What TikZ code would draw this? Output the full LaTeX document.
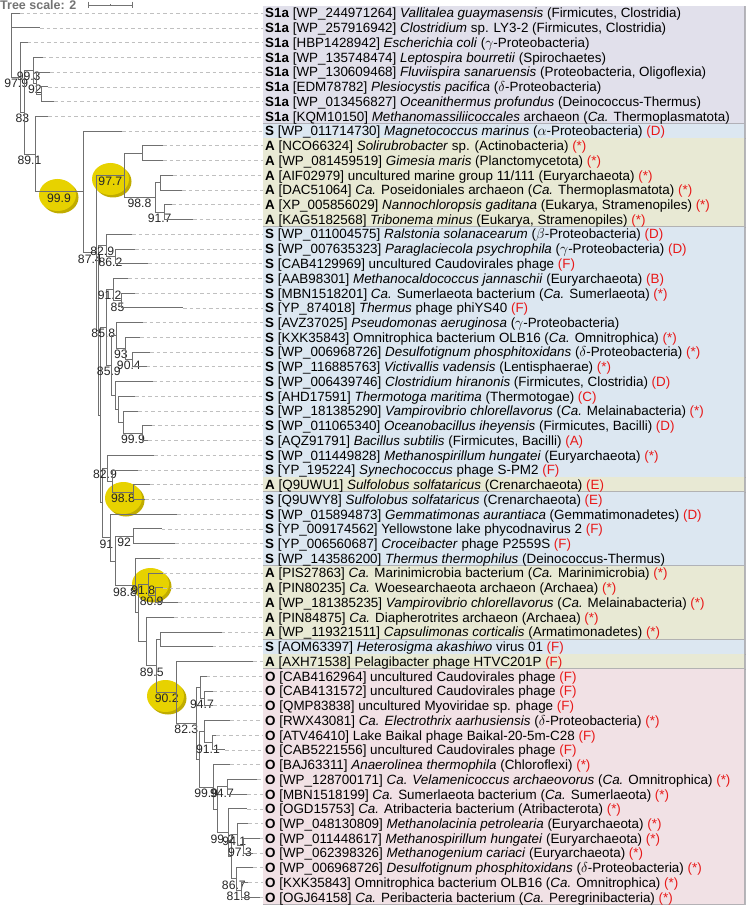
\documentclass[tikz,border=0pt]{standalone}
\usepackage{fontspec}
\setmainfont{Liberation Sans}
\definecolor{tred}{RGB}{232,24,24}
\definecolor{brc}{RGB}{112,112,112}
\definecolor{ldc}{RGB}{192,192,192}
\definecolor{bxSa}{RGB}{225,224,235}
\definecolor{bxS}{RGB}{220,231,241}
\definecolor{bxA}{RGB}{232,233,212}
\definecolor{bxO}{RGB}{241,225,229}
\definecolor{bxE}{RGB}{165,165,170}
\definecolor{yel}{RGB}{231,210,0}
\definecolor{yelsh}{RGB}{192,172,0}
\pgfdeclarelayer{bg}
\pgfsetlayers{bg,main}
\newcommand\rd[1]{\textcolor{tred}{(#1)}}
\newcommand\lf[4]{%
  \coordinate (t#1) at (#2,#3);
  \node[leaf] (l#1) at (265,#3+4.8) {#4};
  \draw[lead] (t#1) -- (t#1 -| l#1.west);
}
\newcommand\ed[2]{\draw[br] (#1) |- (#2);}
\newcommand\edl[3]{\draw[br] (#1) |- (#2) node[bs,pos=0.75]{#3};}
\newcommand\bx[3]{\fill[#1] (263,#2) rectangle (745,#3);
  \draw[bxedge] (263,#3) -- (745,#3) -- (745,#2);}
\newcommand\yell[2]{\fill[yelsh] (#1+2.5,#2+2.5) ellipse [x radius=18.5, y radius=16];
  \fill[yel] (#1,#2) ellipse [x radius=18.5, y radius=16];}
\begin{document}
\begin{tikzpicture}[x=1pt,y=-1pt,
  br/.style={draw=brc,line width=0.9pt},
  lead/.style={draw=ldc,line width=0.7pt,dash pattern=on 3.5pt off 3pt,shorten >=2.5pt},
  leaf/.style={anchor=base west,inner sep=0pt,font=\fontsize{13.4}{15}\selectfont},
  bs/.style={anchor=north,inner sep=0pt,yshift=-1.5pt,font=\fontsize{12.2}{13}\selectfont,text=black!85},
  bxedge/.style={draw=bxE,line width=1.3pt,opacity=0.8}]
\path[use as bounding box] (0,0) rectangle (748,909);

% boxes and highlight ellipses
\begin{pgfonlayer}{bg}
\bx{bxSa}{5.8}{123.7}
\bx{bxS}{123.7}{138.5}
\bx{bxA}{138.5}{226.9}
\bx{bxS}{226.9}{477.4}
\bx{bxA}{477.4}{492.1}
\bx{bxS}{492.1}{565.8}
\bx{bxA}{565.8}{639.5}
\bx{bxS}{639.5}{654.2}
\bx{bxA}{654.2}{668.9}
\bx{bxO}{668.9}{904.7}
\yell{57.5}{195}
\yell{110.5}{179}
\yell{123.5}{498}
\yell{150.5}{584}
\yell{165.5}{696}
\end{pgfonlayer}

% tree scale
\node[anchor=base west,inner sep=0pt,font=\bfseries\fontsize{12.5}{13}\selectfont,text=black!55] (ts) at (0,9.3) {Tree scale: 2};
\coordinate (sb1) at (88,5);
\coordinate (sb2) at (132,5);
\coordinate (sbm) at (110,5);
\draw[black!55,line width=0.8pt] (sb1) -- (sb2);
\draw[black!55,line width=0.8pt] ([yshift=3.3pt]sb1) -- ([yshift=-3.3pt]sb1);
\draw[black!55,line width=0.8pt] ([yshift=3.3pt]sb2) -- ([yshift=-3.3pt]sb2);
\draw[black!55,line width=0.6pt] ([yshift=1.2pt]sbm) -- ([yshift=-1.2pt]sbm);

% leaves
\lf{1}{20}{13.2}{\textbf{S1a} [WP\_244971264] \textit{Vallitalea guaymasensis} (Firmicutes, Clostridia)}
\lf{2}{40}{27.9}{\textbf{S1a} [WP\_257916942] \textit{Clostridium} sp. LY3-2 (Firmicutes, Clostridia)}
\lf{3}{27.7}{42.7}{\textbf{S1a} [HBP1428942] \textit{Escherichia coli} ($\gamma$-Proteobacteria)}
\lf{4}{42.7}{57.4}{\textbf{S1a} [WP\_135748474] \textit{Leptospira bourretii} (Spirochaetes)}
\lf{5}{50}{72.1}{\textbf{S1a} [WP\_130609468] \textit{Fluviispira sanaruensis} (Proteobacteria, Oligoflexia)}
\lf{6}{48}{86.9}{\textbf{S1a} [EDM78782] \textit{Plesiocystis pacifica} ($\delta$-Proteobacteria)}
\lf{7}{54}{101.6}{\textbf{S1a} [WP\_013456827] \textit{Oceanithermus profundus} (Deinococcus-Thermus)}
\lf{8}{48}{116.3}{\textbf{S1a} [KQM10150] \textit{Methanomassiliicoccales} archaeon (\textit{Ca.} Thermoplasmatota)}
\lf{9}{122}{131.1}{\textbf{S} [WP\_011714730] \textit{Magnetococcus marinus} ($\alpha$-Proteobacteria) \rd{D}}
\lf{10}{163}{145.8}{\textbf{A} [NCO66324] \textit{Solirubrobacter} sp. (Actinobacteria) \rd{*}}
\lf{11}{163}{160.6}{\textbf{A} [WP\_081459519] \textit{Gimesia maris} (Planctomycetota) \rd{*}}
\lf{12}{173}{175.3}{\textbf{A} [AIF02979] uncultured marine group 11/111 (Euryarchaeota) \rd{*}}
\lf{13}{182}{190.0}{\textbf{A} [DAC51064] \textit{Ca.} Poseidoniales archaeon (\textit{Ca.} Thermoplasmatota) \rd{*}}
\lf{14}{172}{204.8}{\textbf{A} [XP\_005856029] \textit{Nannochloropsis gaditana} (Eukarya, Stramenopiles) \rd{*}}
\lf{15}{193}{219.5}{\textbf{A} [KAG5182568] \textit{Tribonema minus} (Eukarya, Stramenopiles) \rd{*}}
\lf{16}{132}{234.2}{\textbf{S} [WP\_011004575] \textit{Ralstonia solanacearum} ($\beta$-Proteobacteria) \rd{D}}
\lf{17}{135}{249.0}{\textbf{S} [WP\_007635323] \textit{Paraglaciecola psychrophila} ($\gamma$-Proteobacteria) \rd{D}}
\lf{18}{148}{263.7}{\textbf{S} [CAB4129969] uncultured Caudovirales phage \rd{F}}
\lf{19}{128}{278.4}{\textbf{S} [AAB98301] \textit{Methanocaldococcus jannaschii} (Euryarchaeota) \rd{B}}
\lf{20}{135}{293.2}{\textbf{S} [MBN1518201] \textit{Ca.} Sumerlaeota bacterium (\textit{Ca.} Sumerlaeota) \rd{*}}
\lf{21}{183}{307.9}{\textbf{S} [YP\_874018] \textit{Thermus} phage phiYS40 \rd{F}}
\lf{22}{143}{322.6}{\textbf{S} [AVZ37025] \textit{Pseudomonas aeruginosa} ($\gamma$-Proteobacteria)}
\lf{23}{140}{337.4}{\textbf{S} [KXK35843] Omnitrophica bacterium OLB16 (\textit{Ca.} Omnitrophica) \rd{*}}
\lf{24}{150}{352.1}{\textbf{S} [WP\_006968726] \textit{Desulfotignum phosphitoxidans} ($\delta$-Proteobacteria) \rd{*}}
\lf{25}{146.7}{366.8}{\textbf{S} [WP\_116885763] \textit{Victivallis vadensis} (Lentisphaerae) \rd{*}}
\lf{26}{153}{381.6}{\textbf{S} [WP\_006439746] \textit{Clostridium hiranonis} (Firmicutes, Clostridia) \rd{D}}
\lf{27}{135}{396.3}{\textbf{S} [AHD17591] \textit{Thermotoga maritima} (Thermotogae) \rd{C}}
\lf{28}{138}{411.1}{\textbf{S} [WP\_181385290] \textit{Vampirovibrio chlorellavorus} (\textit{Ca.} Melainabacteria) \rd{*}}
\lf{29}{151.7}{425.8}{\textbf{S} [WP\_011065340] \textit{Oceanobacillus iheyensis} (Firmicutes, Bacilli) \rd{D}}
\lf{30}{148}{440.5}{\textbf{S} [AQZ91791] \textit{Bacillus subtilis} (Firmicutes, Bacilli) \rd{A}}
\lf{31}{154}{455.3}{\textbf{S} [WP\_011449828] \textit{Methanospirillum hungatei} (Euryarchaeota) \rd{*}}
\lf{32}{138}{470.0}{\textbf{S} [YP\_195224] \textit{Synechococcus} phage S-PM2 \rd{F}}
\lf{33}{150}{484.7}{\textbf{A} [Q9UWU1] \textit{Sulfolobus solfataricus} (Crenarchaeota) \rd{E}}
\lf{34}{145}{499.5}{\textbf{S} [Q9UWY8] \textit{Sulfolobus solfataricus} (Crenarchaeota) \rd{E}}
\lf{35}{177}{514.2}{\textbf{S} [WP\_015894873] \textit{Gemmatimonas aurantiaca} (Gemmatimonadetes) \rd{D}}
\lf{36}{161.7}{528.9}{\textbf{S} [YP\_009174562] Yellowstone lake phycodnavirus 2 \rd{F}}
\lf{37}{175}{543.7}{\textbf{S} [YP\_006560687] \textit{Croceibacter} phage P2559S \rd{F}}
\lf{38}{160}{558.4}{\textbf{S} [WP\_143586200] \textit{Thermus thermophilus} (Deinococcus-Thermus)}
\lf{39}{163}{573.1}{\textbf{A} [PIS27863] \textit{Ca.} Marinimicrobia bacterium (\textit{Ca.} Marinimicrobia) \rd{*}}
\lf{40}{163}{587.9}{\textbf{A} [PIN80235] \textit{Ca.} Woesearchaeota archaeon (Archaea) \rd{*}}
\lf{41}{178}{602.6}{\textbf{A} [WP\_181385235] \textit{Vampirovibrio chlorellavorus} (\textit{Ca.} Melainabacteria) \rd{*}}
\lf{42}{174}{617.3}{\textbf{A} [PIN84875] \textit{Ca.} Diapherotrites archaeon (Archaea) \rd{*}}
\lf{43}{221.7}{632.1}{\textbf{A} [WP\_119321511] \textit{Capsulimonas corticalis} (Armatimonadetes) \rd{*}}
\lf{44}{212.7}{646.8}{\textbf{S} [AOM63397] \textit{Heterosigma akashiwo} virus 01 \rd{F}}
\lf{45}{253}{661.5}{\textbf{A} [AXH71538] Pelagibacter phage HTVC201P \rd{F}}
\lf{46}{206.7}{676.3}{\textbf{O} [CAB4162964] uncultured Caudovirales phage \rd{F}}
\lf{47}{213}{691.0}{\textbf{O} [CAB4131572] uncultured Caudovirales phage \rd{F}}
\lf{48}{213}{705.7}{\textbf{O} [QMP83838] uncultured Myoviridae sp. phage \rd{F}}
\lf{49}{230}{720.5}{\textbf{O} [RWX43081] \textit{Ca. Electrothrix aarhusiensis} ($\delta$-Proteobacteria) \rd{*}}
\lf{50}{216}{735.2}{\textbf{O} [ATV46410] Lake Baikal phage Baikal-20-5m-C28 \rd{F}}
\lf{51}{225}{749.9}{\textbf{O} [CAB5221556] uncultured Caudovirales phage \rd{F}}
\lf{52}{230}{764.7}{\textbf{O} [BAJ63311] \textit{Anaerolinea thermophila} (Chloroflexi) \rd{*}}
\lf{53}{257}{779.4}{\textbf{O} [WP\_128700171] \textit{Ca. Velamenicoccus archaeovorus} (\textit{Ca.} Omnitrophica) \rd{*}}
\lf{54}{247}{794.2}{\textbf{O} [MBN1518199] \textit{Ca.} Sumerlaeota bacterium (\textit{Ca.} Sumerlaeota) \rd{*}}
\lf{55}{247}{808.9}{\textbf{O} [OGD15753] \textit{Ca.} Atribacteria bacterium (Atribacterota) \rd{*}}
\lf{56}{248}{823.6}{\textbf{O} [WP\_048130809] \textit{Methanolacinia petrolearia} (Euryarchaeota) \rd{*}}
\lf{57}{260}{838.4}{\textbf{O} [WP\_011448617] \textit{Methanospirillum hungatei} (Euryarchaeota) \rd{*}}
\lf{58}{253}{853.1}{\textbf{O} [WP\_062398326] \textit{Methanogenium cariaci} (Euryarchaeota) \rd{*}}
\lf{59}{253}{867.8}{\textbf{O} [WP\_006968726] \textit{Desulfotignum phosphitoxidans} ($\delta$-Proteobacteria) \rd{*}}
\lf{60}{248}{882.6}{\textbf{O} [KXK35843] Omnitrophica bacterium OLB16 (\textit{Ca.} Omnitrophica) \rd{*}}
\lf{61}{260}{897.3}{\textbf{O} [OGJ64158] \textit{Ca.} Peribacteria bacterium (\textit{Ca.} Peregrinibacteria) \rd{*}}

% internal nodes
\coordinate (R) at (11.7,13.2);
\coordinate (Na) at (20.7,77.45);
\coordinate (Ne) at (24,112.2);
\coordinate (Nb) at (33.3,70.3);
\coordinate (Ng) at (36.7,83.2);
\coordinate (Nh) at (41,94.25);
\coordinate (Nf) at (35,154.1);
\coordinate (Nbig) at (83,191.95);
\coordinate (Nrest) at (96.7,252.8);
\coordinate (NA) at (124,175.3);
\coordinate (NA1) at (142.7,153.2);
\coordinate (NA2) at (155,197.4);
\coordinate (NA3) at (160.7,182.65);
\coordinate (NA4) at (164.3,212.15);
\coordinate (Nv) at (98.5,330.25);
\coordinate (Nu) at (106,245.3);
\coordinate (Nt) at (115,256.35);
\coordinate (Nw2) at (100.7,415.2);
\coordinate (Ns) at (106,327.5);
\coordinate (Nx) at (113.3,289.5);
\coordinate (Nw) at (121.7,300.55);
\coordinate (N859) at (111.7,365.45);
\coordinate (N1167) at (116.7,335.5);
\coordinate (N125) at (125,348.4);
\coordinate (N1327) at (132.7,359.45);
\coordinate (N115) at (115,395.4);
\coordinate (N1183) at (118.3,409.2);
\coordinate (N1233) at (123.3,422.1);
\coordinate (N1427) at (142.7,433.15);
\coordinate (Nz) at (102.7,502.9);
\coordinate (N829) at (107.3,468.2);
\coordinate (N1127) at (112.7,481.05);
\coordinate (N1333) at (133.3,492.1);
\coordinate (N110) at (110,537.6);
\coordinate (N115b) at (115,561.0);
\coordinate (N1333b) at (133.3,536.3);
\coordinate (N135) at (135,585.65);
\coordinate (N1383) at (138.3,612.9);
\coordinate (Na1) at (148.3,584.2);
\coordinate (Na2) at (155,595.25);
\coordinate (N1467) at (146.7,641.6);
\coordinate (N895) at (156.7,665.9);
\coordinate (N1607) at (160.7,639.45);
\coordinate (N902) at (176.7,692.4);
\coordinate (NO) at (196,723.35);
\coordinate (Nq) at (200,687.3);
\coordinate (Np) at (204,698.35);
\coordinate (Nr2) at (199.3,759.4);
\coordinate (N204b) at (204,731.5);
\coordinate (N911) at (212,742.55);
\coordinate (NU) at (213,787.25);
\coordinate (NS) at (217,809.8);
\coordinate (N947b) at (227,786.8);
\coordinate (NV) at (228,832.85);
\coordinate (NW) at (231.7,856.8);
\coordinate (N941) at (237,834.7);
\coordinate (N973) at (243,845.75);
\coordinate (N867) at (236,878.9);
\coordinate (N818) at (241,889.95);

% branches
\ed{R}{t1}\ed{R}{t2}\edl{R}{Na}{97.9}
\ed{Na}{t3}\edl{Na}{Ne}{83}
\edl{Ne}{Nb}{99.3}\edl{Ne}{Nf}{89.1}
\ed{Nb}{t4}\edl{Nb}{Ng}{92}
\ed{Ng}{t5}\ed{Ng}{Nh}
\ed{Nh}{t6}\ed{Nh}{t7}
\ed{Nf}{t8}\edl{Nf}{Nbig}{99.9}
\ed{Nbig}{t9}\edl{Nbig}{Nrest}{87.4}
\edl{Nrest}{NA}{97.7}\ed{Nrest}{Nv}
\ed{NA}{NA1}\edl{NA}{NA2}{98.8}
\ed{NA1}{t10}\ed{NA1}{t11}
\ed{NA2}{NA3}\edl{NA2}{NA4}{91.7}
\ed{NA3}{t12}\ed{NA3}{t13}
\ed{NA4}{t14}\ed{NA4}{t15}
\edl{Nv}{Nu}{82.9}\ed{Nv}{Nw2}
\ed{Nu}{t16}\edl{Nu}{Nt}{86.2}
\ed{Nt}{t17}\ed{Nt}{t18}
\edl{Nw2}{Ns}{85.8}\ed{Nw2}{Nz}
\edl{Ns}{Nx}{91.2}\edl{Ns}{N859}{85.9}
\ed{Nx}{t19}\edl{Nx}{Nw}{85}
\ed{Nw}{t20}\ed{Nw}{t21}
\ed{N859}{N1167}\ed{N859}{N115}
\ed{N1167}{t22}\edl{N1167}{N125}{93}
\ed{N125}{t23}\edl{N125}{N1327}{90.4}
\ed{N1327}{t24}\ed{N1327}{t25}
\ed{N115}{t26}\ed{N115}{N1183}
\ed{N1183}{t27}\ed{N1183}{N1233}
\ed{N1233}{t28}\edl{N1233}{N1427}{99.9}
\ed{N1427}{t29}\ed{N1427}{t30}
\edl{Nz}{N829}{82.9}\edl{Nz}{N110}{91}
\ed{N829}{t31}\ed{N829}{N1127}
\ed{N1127}{t32}\edl{N1127}{N1333}{98.8}
\ed{N1333}{t33}\ed{N1333}{t34}
\ed{N110}{t35}\ed{N110}{N115b}
\edl{N115b}{N1333b}{92}\edl{N115b}{N135}{98.8}
\ed{N1333b}{t36}\ed{N1333b}{t37}
\ed{N135}{t38}\ed{N135}{N1383}
\edl{N1383}{Na1}{91.8}\ed{N1383}{N1467}
\ed{Na1}{t39}\edl{Na1}{Na2}{80.9}
\ed{Na2}{t40}\ed{Na2}{t41}
\ed{N1467}{t42}\edl{N1467}{N895}{89.5}
\ed{N895}{N1607}\edl{N895}{N902}{90.2}
\ed{N1607}{t43}\ed{N1607}{t44}
\ed{N902}{t45}\edl{N902}{NO}{82.3}
\ed{NO}{Nq}\ed{NO}{Nr2}
\ed{Nq}{t46}\edl{Nq}{Np}{94.7}
\ed{Np}{t47}\ed{Np}{t48}
\ed{Nr2}{N204b}\edl{Nr2}{NU}{99.9}
\ed{N204b}{t49}\edl{N204b}{N911}{91.1}
\ed{N911}{t50}\ed{N911}{t51}
\ed{NU}{t52}\ed{NU}{NS}
\edl{NS}{N947b}{94.7}\edl{NS}{NV}{99.2}
\ed{N947b}{t53}\ed{N947b}{t54}
\ed{NV}{t55}\ed{NV}{NW}
\edl{NW}{N941}{94.1}\edl{NW}{N867}{86.7}
\ed{N941}{t56}\edl{N941}{N973}{97.3}
\ed{N973}{t57}\ed{N973}{t58}
\ed{N867}{t59}\edl{N867}{N818}{81.8}
\ed{N818}{t60}\ed{N818}{t61}
\end{tikzpicture}
\end{document}
